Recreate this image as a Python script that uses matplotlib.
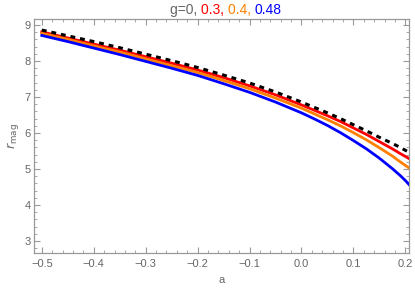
import matplotlib
matplotlib.use("Agg")
import matplotlib.pyplot as plt
import matplotlib.ticker as mticker

# values
a_vals = [-0.5, -0.45, -0.4, -0.35, -0.3, -0.25, -0.2, -0.15, -0.1, -0.05,
          0.0, 0.025, 0.05, 0.075, 0.1, 0.125, 0.15, 0.175, 0.19, 0.2, 0.207]
r_g0 = [8.86, 8.70, 8.54, 8.37, 8.19, 8.01, 7.82, 7.61, 7.39, 7.14,
        6.86, 6.71, 6.56, 6.40, 6.23, 6.06, 5.88, 5.71, 5.60, 5.52, 5.47]
r_g03 = [8.81, 8.64, 8.47, 8.30, 8.12, 7.94, 7.75, 7.54, 7.31, 7.06,
         6.78, 6.63, 6.48, 6.32, 6.14, 5.96, 5.76, 5.56, 5.43, 5.35, 5.29]
r_g04 = [8.77, 8.60, 8.42, 8.25, 8.06, 7.87, 7.68, 7.46, 7.23, 6.97,
         6.69, 6.53, 6.37, 6.20, 6.01, 5.81, 5.59, 5.36, 5.20, 5.10, 5.03]
r_g048 = [8.71, 8.54, 8.36, 8.18, 7.99, 7.80, 7.60, 7.37, 7.13, 6.86,
          6.56, 6.39, 6.21, 6.01, 5.79, 5.56, 5.30, 5.01, 4.82, 4.68, 4.57]

plt.rcParams["font.family"] = ["Liberation Sans", "DejaVu Sans"]

fig = plt.figure(figsize=(4.15, 2.91), dpi=100)
ax = fig.add_axes([34 / 415, 1 - 253 / 291, 375 / 415, 234 / 291])

lw = 2.0
ax.plot(a_vals, r_g03, color="#ff0000", lw=lw, zorder=3)
ax.plot(a_vals, r_g04, color="#ff8000", lw=lw, zorder=3)
ax.plot(a_vals, r_g048, color="#0000ff", lw=lw, zorder=3)
ax.plot(a_vals, r_g0, color="black", lw=2.2, dashes=(1.6, 1.6), zorder=4)

ax.set_xlim(-0.515, 0.207)
ax.set_ylim(2.667, 9.167)

ax.xaxis.set_major_locator(mticker.MultipleLocator(0.1))
ax.xaxis.set_minor_locator(mticker.MultipleLocator(0.02))
ax.yaxis.set_major_locator(mticker.MultipleLocator(1))
ax.yaxis.set_minor_locator(mticker.MultipleLocator(0.2))
ax.xaxis.set_major_formatter(mticker.FuncFormatter(lambda v, _: f"{v:.1f}".replace("-", "\u2212")))

grey = "#999999"
for sp in ax.spines.values():
    sp.set_color(grey)
    sp.set_linewidth(0.9)
ax.tick_params(which="both", direction="in", colors=grey, top=True, right=True,
               labelcolor="#666666", labelsize=8)
ax.tick_params(which="major", length=4, width=0.8, pad=4)
ax.tick_params(which="minor", length=2, width=0.6)
ax.tick_params(axis="y", which="major", pad=2.5)

ax.set_xlabel("a", color="#666666", fontsize=8)
ax.xaxis.set_label_coords(0.5, -0.095)
ax.set_ylabel(r"$r_{\mathrm{mag}}$", color="#666666", fontsize=9)
ax.yaxis.set_label_coords(-0.036, 0.5)

# multi-coloured title
pieces = [("g=0, ", "#666666"), ("0.3, ", "#ff0000"), ("0.4, ", "#ff8000"), ("0.48", "#0000ff")]
fig.canvas.draw()
renderer = fig.canvas.get_renderer()
texts = []
for s, c in pieces:
    texts.append(fig.text(0, 1 - 10 / 291, s, color=c, fontsize=10, va="center", ha="left"))
widths = [t.get_window_extent(renderer).width for t in texts]
total = sum(widths)
x0 = 226 - total / 2
for t, w in zip(texts, widths):
    t.set_x(x0 / 415)
    x0 += w

fig.savefig("out.png", dpi=100)
